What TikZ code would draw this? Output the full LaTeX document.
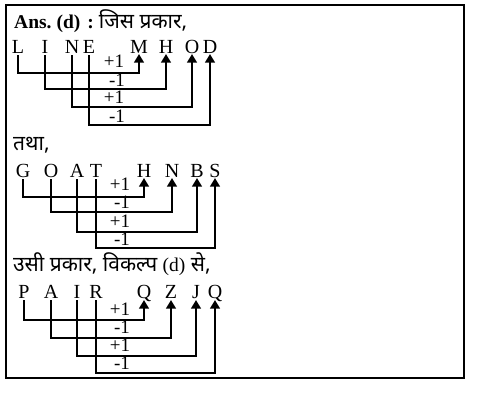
\documentclass[tikz,border=0pt]{standalone}
\usepackage{fontspec}
\setmainfont{Liberation Serif}
\newfontfamily\hin[Script=Devanagari]{Noto Sans}
\usetikzlibrary{arrows.meta}
\tikzset{
  ltr/.style={anchor=base,inner sep=0pt,font=\fontsize{20}{20}\selectfont},
  lbl/.style={anchor=base,inner sep=0pt,font=\fontsize{19}{19}\selectfont},
  hd/.style={anchor=base west,inner sep=0pt,font=\fontsize{19.5}{19.5}\selectfont},
  conn/.style={line width=2.2pt,-{Triangle[width=9.5pt,length=8.5pt]}},
  frame/.style={line width=1.3pt}
}
\begin{document}
\begin{tikzpicture}[x=1pt,y=-1pt]
\useasboundingbox (0,0) rectangle (485,405);
\draw[frame] (6,5) rectangle (464,378);
% section 1
\node[hd] (h1) at (14,28) {\textbf{Ans.\hspace{5pt}(d)\hspace{7pt}:}\hspace{5pt}{\hin\fontsize{21}{21}\selectfont जिस प्रकार,}};
\node[ltr] (L) at (18,53) {L};
\node[ltr] (I) at (45,53) {I};
\node[ltr] (N) at (72,53) {N};
\node[ltr] (E) at (89,53) {E};
\node[ltr] (M) at (139,53) {M};
\node[ltr] (H) at (166,53) {H};
\node[ltr] (O) at (192,53) {O};
\node[ltr] (D) at (210,53) {D};
\draw[conn] ([yshift=-2pt]L.base) -- ++(0,18) -| ([yshift=-1pt]M.base);
\draw[conn] ([yshift=-2pt]I.base) -- ++(0,34) -| ([yshift=-1pt]H.base);
\draw[conn] ([yshift=-2pt]N.base) -- ++(0,52) -| ([yshift=-1pt]O.base);
\draw[conn] ([yshift=-2pt]E.base) -- ++(0,70) -| ([yshift=-1pt]D.base);
\node[lbl] (a1) at (114,67) {+1};
\node[lbl] (a2) at (117,86) {-1};
\node[lbl] (a3) at (114,103) {+1};
\node[lbl] (a4) at (117,122) {-1};
% section 2
\node[hd] (h2) at (13,150) {\hin\fontsize{21}{21}\selectfont तथा,};
\node[ltr] (G) at (23,177) {G};
\node[ltr] (O2) at (51,177) {O};
\node[ltr] (A2) at (77,177) {A};
\node[ltr] (T) at (96,177) {T};
\node[ltr] (H2) at (144,177) {H};
\node[ltr] (N2) at (172,177) {N};
\node[ltr] (B) at (197,177) {B};
\node[ltr] (S) at (215,177) {S};
\draw[conn] ([yshift=-2pt]G.base) -- ++(0,18) -| ([yshift=-1pt]H2.base);
\draw[conn] ([yshift=-2pt]O2.base) -- ++(0,33) -| ([yshift=-1pt]N2.base);
\draw[conn] ([yshift=-2pt]A2.base) -- ++(0,53) -| ([yshift=-1pt]B.base);
\draw[conn] ([yshift=-2pt]T.base) -- ++(0,69) -| ([yshift=-1pt]S.base);
\node[lbl] (b1) at (120,190) {+1};
\node[lbl] (b2) at (122,208) {-1};
\node[lbl] (b3) at (120,227) {+1};
\node[lbl] (b4) at (122,245) {-1};
% section 3
\node[hd] (h3) at (13,271) {\hin\fontsize{21}{21}\selectfont उसी प्रकार, विकल्प {\rmfamily\fontsize{19.5}{19.5}\selectfont (d)} से,};
\node[ltr] (P) at (24,298) {P};
\node[ltr] (A3) at (51,298) {A};
\node[ltr] (I3) at (77,298) {I};
\node[ltr] (R) at (96,298) {R};
\node[ltr] (Q1) at (144,298) {Q};
\node[ltr] (Z) at (171,298) {Z};
\node[ltr] (J) at (196,298) {J};
\node[ltr] (Q2) at (215,298) {Q};
\draw[conn] ([yshift=-2pt]P.base) -- ++(0,20) -| ([yshift=-2pt]Q1.base);
\draw[conn] ([yshift=-2pt]A3.base) -- ++(0,38) -| ([yshift=-2pt]Z.base);
\draw[conn] ([yshift=-2pt]I3.base) -- ++(0,56) -| ([yshift=-2pt]J.base);
\draw[conn] ([yshift=-2pt]R.base) -- ++(0,73) -| ([yshift=-2pt]Q2.base);
\node[lbl] (c1) at (120,315) {+1};
\node[lbl] (c2) at (122,333) {-1};
\node[lbl] (c3) at (120,351) {+1};
\node[lbl] (c4) at (122,369) {-1};
\end{tikzpicture}
\end{document}
